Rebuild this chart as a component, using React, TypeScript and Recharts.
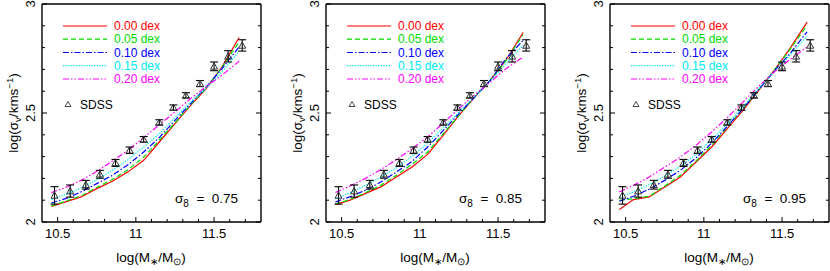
import React from "react";
import { ComposedChart, ErrorBar, Line, Scatter, XAxis, YAxis } from "recharts";

// grid of stellar masses the model curves are sampled on
const curveX = [10.46, 10.55, 10.65, 10.75, 10.85, 10.95, 11.05, 11.15, 11.25, 11.35, 11.45, 11.55, 11.66];

// sigma8 = 0.75
const s075_d000 = [2.072, 2.092, 2.115, 2.153, 2.187, 2.23, 2.283, 2.367, 2.451, 2.535, 2.612, 2.711, 2.846];
const s075_d005 = [2.074, 2.095, 2.12, 2.158, 2.195, 2.24, 2.298, 2.375, 2.455, 2.538, 2.614, 2.708, 2.826];
const s075_d010 = [2.087, 2.107, 2.138, 2.176, 2.214, 2.263, 2.321, 2.387, 2.466, 2.543, 2.619, 2.703, 2.803];
const s075_d015 = [2.103, 2.125, 2.157, 2.194, 2.237, 2.286, 2.344, 2.405, 2.479, 2.55, 2.616, 2.688, 2.783];
const s075_d020 = [2.135, 2.158, 2.191, 2.232, 2.28, 2.329, 2.387, 2.446, 2.505, 2.566, 2.622, 2.673, 2.737];

// sigma8 = 0.85
const s085_d000 = [2.081, 2.099, 2.13, 2.161, 2.206, 2.252, 2.31, 2.398, 2.489, 2.573, 2.65, 2.742, 2.869];
const s085_d005 = [2.083, 2.102, 2.134, 2.168, 2.215, 2.265, 2.321, 2.405, 2.49, 2.575, 2.65, 2.74, 2.859];
const s085_d010 = [2.092, 2.115, 2.145, 2.183, 2.229, 2.278, 2.344, 2.42, 2.497, 2.573, 2.65, 2.749, 2.833];
const s085_d015 = [2.107, 2.133, 2.168, 2.206, 2.249, 2.301, 2.362, 2.433, 2.505, 2.576, 2.645, 2.726, 2.81];
const s085_d020 = [2.135, 2.164, 2.199, 2.24, 2.286, 2.336, 2.39, 2.454, 2.52, 2.584, 2.642, 2.703, 2.757];

// sigma8 = 0.95
const s095_d000 = [2.057, 2.103, 2.115, 2.161, 2.206, 2.275, 2.344, 2.428, 2.512, 2.604, 2.696, 2.795, 2.917];
const s095_d005 = [2.099, 2.107, 2.118, 2.165, 2.214, 2.28, 2.352, 2.436, 2.52, 2.607, 2.696, 2.791, 2.902];
const s095_d010 = [2.095, 2.118, 2.15, 2.191, 2.237, 2.294, 2.362, 2.439, 2.52, 2.607, 2.693, 2.772, 2.872];
const s095_d015 = [2.115, 2.138, 2.171, 2.211, 2.255, 2.31, 2.378, 2.451, 2.528, 2.612, 2.688, 2.765, 2.852];
const s095_d020 = [2.138, 2.168, 2.206, 2.252, 2.298, 2.352, 2.413, 2.479, 2.55, 2.622, 2.688, 2.745, 2.803];

// SDSS measurements (same in every panel)
const sdssX = [10.48, 10.58, 10.68, 10.77, 10.87, 10.96, 11.05, 11.15, 11.24, 11.32, 11.41, 11.5, 11.59, 11.68];
const sdssY = [2.122, 2.142, 2.171, 2.219, 2.271, 2.329, 2.379, 2.457, 2.525, 2.581, 2.635, 2.714, 2.76, 2.81];
const sdssErr = [0.04, 0.028, 0.02, 0.018, 0.016, 0.015, 0.013, 0.012, 0.012, 0.012, 0.014, 0.02, 0.026, 0.026];

const scatterLabels = ["0.00 dex", "0.05 dex", "0.10 dex", "0.15 dex", "0.20 dex"];
const sigma8Labels = ["0.75", "0.85", "0.95"];

const xTicks = [10.5, 10.6, 10.7, 10.8, 10.9, 11, 11.1, 11.2, 11.3, 11.4, 11.5, 11.6, 11.7];
const xMajor = [10.5, 11, 11.5];
const yTicks = [2, 2.1, 2.2, 2.3, 2.4, 2.5, 2.6, 2.7, 2.8, 2.9, 3];
const yMajor = [2, 2.5, 3];

const COLORS = ["#ff0000", "#00dd00", "#0000ff", "#00eeee", "#ff00ff"];
const DASHES = [undefined, "5 3", "6 2 1.5 2", "1.3 1.3", "6 2 1.5 2 1.5 2"];
const FONT = "'Liberation Sans', Arial, Helvetica, sans-serif";

const panels = [
  [s075_d000, s075_d005, s075_d010, s075_d015, s075_d020],
  [s085_d000, s085_d005, s085_d010, s085_d015, s085_d020],
  [s095_d000, s095_d005, s095_d010, s095_d015, s095_d020],
];

const sdssData = sdssX.map((x, i) => ({ x, y: sdssY[i], err: sdssErr[i] }));

// frame ticks point inward; labels only on the bottom and left
function makeTick(side: "bottom" | "top" | "left" | "right") {
  return (props: any) => {
    const { x, y, payload } = props;
    const v = payload.value;
    const isX = side === "bottom" || side === "top";
    const major = (isX ? xMajor : yMajor).includes(v);
    const len = major ? 5 : 3;
    let line;
    if (side === "bottom") line = <line x1={x} x2={x} y1={y} y2={y - len} />;
    else if (side === "top") line = <line x1={x} x2={x} y1={y} y2={y + len} />;
    else if (side === "left") line = <line x1={x} x2={x + len} y1={y} y2={y} />;
    else line = <line x1={x} x2={x - len} y1={y} y2={y} />;
    return (
      <g>
        <g stroke="#000" strokeWidth={1}>{line}</g>
        {major && side === "bottom" && (
          <text x={x} y={y + 16} textAnchor="middle" fontSize={13} fontFamily={FONT} fill="#000">{String(v)}</text>
        )}
        {major && side === "left" && (
          <text transform={`translate(${x - 7},${y}) rotate(-90)`} textAnchor="middle" fontSize={13} fontFamily={FONT} fill="#000">{String(v)}</text>
        )}
      </g>
    );
  };
}

const Triangle = (props: any) => {
  const { cx, cy } = props;
  if (cx == null || cy == null) return null;
  const s = 3.5;
  return <path d={`M${cx},${cy - s} L${cx + s},${cy + s * 0.8} L${cx - s},${cy + s * 0.8} Z`} fill="none" stroke="#333" strokeWidth={1} />;
};

function Decor({ sigma }: { sigma: string }) {
  const rows = [26, 39.2, 52.5, 65.7, 79];
  return (
    <g fontFamily={FONT}>
      {rows.map((ry, i) => (
        <g key={i}>
          <line x1={63} x2={107} y1={ry} y2={ry} stroke={COLORS[i]} strokeWidth={1.2} strokeDasharray={DASHES[i]} />
          <text x={114} y={ry + 4} fontSize={12} fill={COLORS[i]}>{scatterLabels[i]}</text>
        </g>
      ))}
      <path d="M68,101.5 L71,106.5 L65,106.5 Z" fill="none" stroke="#333" strokeWidth={0.9} />
      <text x={80} y={108.5} fontSize={12} fill="#000">SDSS</text>
      <text x={175} y={202.5} fontSize={13.5} fill="#000">
        σ<tspan fontSize={10} dy={4.5}>8</tspan>
        <tspan dy={-4.5}>{"\u00a0\u00a0=\u00a0\u00a0" + sigma}</tspan>
      </text>
      <text x={151} y={262} fontSize={13.5} textAnchor="middle" fill="#000">
        log(M<tspan fontSize={9.5} dy={3}>∗</tspan>
        <tspan dy={-3}>/M</tspan>
        <tspan fontSize={9.5} dy={3}>⊙</tspan>
        <tspan dy={-3}>)</tspan>
      </text>
      <text transform="translate(18,113) rotate(-90)" fontSize={13.5} textAnchor="middle" fill="#000">
        log(σ<tspan fontSize={9.5} dy={3}>v</tspan>
        <tspan dy={-3}>/kms</tspan>
        <tspan fontSize={9.5} dy={-5}>−1</tspan>
        <tspan dy={5}>)</tspan>
      </text>
    </g>
  );
}

function Panel({ idx }: { idx: number }) {
  const series = panels[idx];
  return (
    <ComposedChart width={283} height={271} margin={{ top: 0, right: 0, bottom: 0, left: 0 }}>
      <XAxis xAxisId="b" dataKey="x" type="number" domain={[10.4, 11.8]} allowDataOverflow
        ticks={xTicks} interval={0} tickSize={0} tickMargin={0} tickLine={false}
        tick={makeTick("bottom")} height={49} axisLine={{ stroke: "#000", strokeWidth: 1.4 }} />
      <XAxis xAxisId="t" orientation="top" type="number" domain={[10.4, 11.8]} allowDataOverflow
        ticks={xTicks} interval={0} tickSize={0} tickMargin={0} tickLine={false}
        tick={makeTick("top")} height={4} axisLine={{ stroke: "#000", strokeWidth: 1.4 }} />
      <YAxis yAxisId="l" dataKey="y" type="number" domain={[2, 3]} allowDataOverflow
        ticks={yTicks} interval={0} tickSize={0} tickMargin={0} tickLine={false}
        tick={makeTick("left")} width={42} axisLine={{ stroke: "#000", strokeWidth: 1.4 }} />
      <YAxis yAxisId="r" orientation="right" type="number" domain={[2, 3]} allowDataOverflow
        ticks={yTicks} interval={0} tickSize={0} tickMargin={0} tickLine={false}
        tick={makeTick("right")} width={22} axisLine={{ stroke: "#000", strokeWidth: 1.4 }} />
      {series.map((vals, i) => (
        <Line key={i} xAxisId="b" yAxisId="l" data={curveX.map((x, k) => ({ x, y: vals[k] }))}
          dataKey="y" type="linear" stroke={COLORS[i]} strokeWidth={1.2}
          strokeDasharray={DASHES[i]} dot={false} activeDot={false} isAnimationActive={false} />
      ))}
      <Scatter xAxisId="b" yAxisId="l" data={sdssData} dataKey="y" shape={<Triangle />} isAnimationActive={false}>
        <ErrorBar dataKey="err" direction="y" width={4} stroke="#000" strokeWidth={1.1} />
      </Scatter>
      <Decor sigma={sigma8Labels[idx]} />
    </ComposedChart>
  );
}

export default function App() {
  return (
    <div style={{ position: "absolute", left: 0, top: 0, width: 830, height: 271, overflow: "hidden", background: "#fff" }}>
      {[0, 1, 2].map((i) => (
        <div key={i} style={{ position: "absolute", left: i * 284, top: 0 }}>
          <Panel idx={i} />
        </div>
      ))}
    </div>
  );
}
